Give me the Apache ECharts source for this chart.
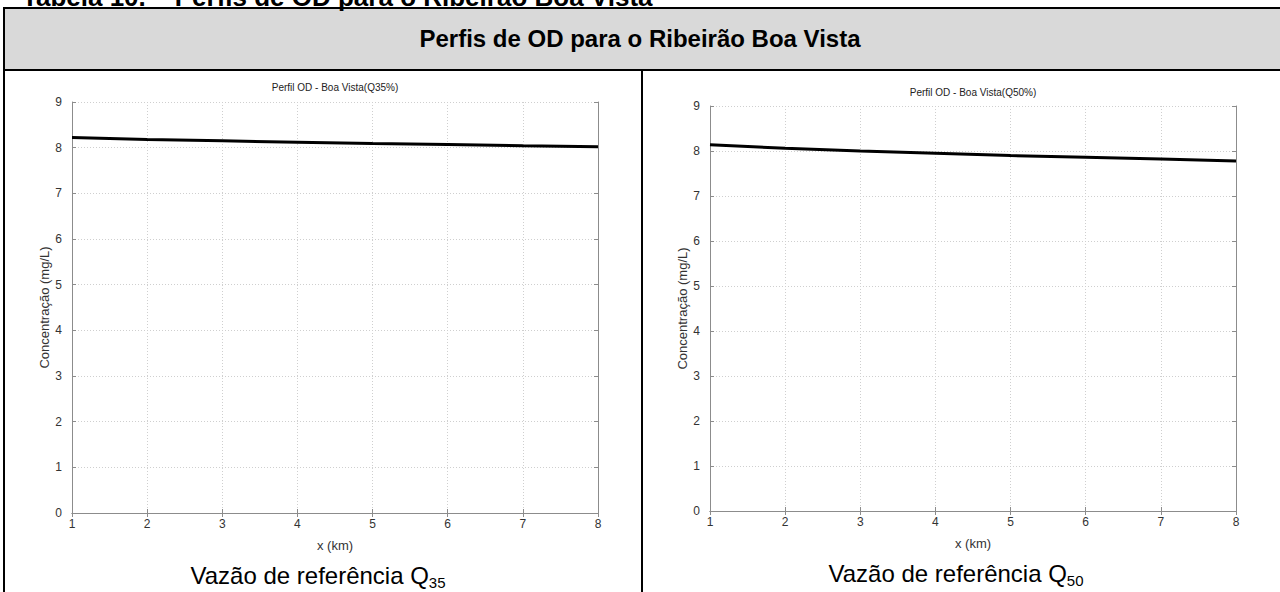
<!DOCTYPE html>
<html>
<head>
<meta charset="utf-8">
<script src="https://cdn.jsdelivr.net/npm/echarts@6/dist/echarts.min.js"></script>
<style>
html,body{margin:0;padding:0;background:#fff;}
#c{width:1280px;height:592px;}
</style>
</head>
<body>
<div id="c"></div>
<script>
// Data
const xKm = [1, 2, 3, 4, 5, 6, 7, 8];
const odQ35 = [8.22, 8.18, 8.15, 8.12, 8.09, 8.07, 8.04, 8.02];
const odQ50 = [8.14, 8.06, 8.00, 7.95, 7.90, 7.86, 7.82, 7.78];
const xTicks = [1, 2, 3, 4, 5, 6, 7, 8];
const yTicks = [0, 1, 2, 3, 4, 5, 6, 7, 8, 9];

const chart = echarts.init(document.getElementById('c'), null, {renderer: 'svg'});
const FONT = 'Liberation Sans, Arial, sans-serif';
const axisGray = '#8c8c8c';

function xAxisPair(gi) {
  return [{
    type: 'value', gridIndex: gi, min: xTicks[0], max: xTicks[xTicks.length - 1], interval: 1, position: 'bottom',
    name: 'x (km)', nameLocation: 'middle', nameGap: 26,
    nameTextStyle: {fontFamily: FONT, fontSize: 13, color: '#333'},
    axisLine: {show: true, lineStyle: {color: axisGray, width: 1}},
    axisTick: {show: true, inside: true, length: 4, lineStyle: {color: axisGray}},
    axisLabel: {fontFamily: FONT, fontSize: 12, color: '#333', margin: 5},
    splitLine: {show: true, lineStyle: {color: '#cfcfcf', type: [1, 2], width: 1}}
  }, {
    type: 'value', gridIndex: gi, min: xTicks[0], max: xTicks[xTicks.length - 1], interval: 1, position: 'top',
    axisLine: {show: true, lineStyle: {color: axisGray, width: 1}},
    axisTick: {show: true, inside: true, length: 4, lineStyle: {color: axisGray}},
    axisLabel: {show: false}, splitLine: {show: false}
  }];
}
function yAxisPair(gi) {
  return [{
    type: 'value', gridIndex: gi, min: yTicks[0], max: yTicks[yTicks.length - 1], interval: 1, position: 'left',
    name: 'Concentração (mg/L)', nameLocation: 'middle', nameGap: 18, nameRotate: 90,
    nameTextStyle: {fontFamily: FONT, fontSize: 13, color: '#333'},
    axisLine: {show: true, lineStyle: {color: axisGray, width: 1}},
    axisTick: {show: true, inside: true, length: 4, lineStyle: {color: axisGray}},
    axisLabel: {fontFamily: FONT, fontSize: 12, color: '#333', margin: 10},
    splitLine: {show: true, lineStyle: {color: '#cfcfcf', type: [1, 2], width: 1}}
  }, {
    type: 'value', gridIndex: gi, min: yTicks[0], max: yTicks[yTicks.length - 1], interval: 1, position: 'right',
    axisLine: {show: true, lineStyle: {color: axisGray, width: 1}},
    axisTick: {show: true, inside: true, length: 4, lineStyle: {color: axisGray}},
    axisLabel: {show: false}, splitLine: {show: false}
  }];
}

const capRich = {
  a: {fontFamily: FONT, fontSize: 24, color: '#000', lineHeight: 28, verticalAlign: 'bottom'},
  s: {fontFamily: FONT, fontSize: 15, color: '#000', lineHeight: 24, verticalAlign: 'bottom', padding: [0, 0, -3, 0]}
};

const option = {
  animation: false,
  backgroundColor: '#fff',
  grid: [
    {left: 72, top: 102, width: 526, height: 411},
    {left: 710, top: 106, width: 526, height: 405}
  ],
  xAxis: [...xAxisPair(0), ...xAxisPair(1)],
  yAxis: [...yAxisPair(0), ...yAxisPair(1)],
  series: [
    {type: 'line', xAxisIndex: 0, yAxisIndex: 0, data: xKm.map((x, i) => [x, odQ35[i]]),
     symbol: 'none', lineStyle: {color: '#000', width: 3}},
    {type: 'line', xAxisIndex: 2, yAxisIndex: 2, data: xKm.map((x, i) => [x, odQ50[i]]),
     symbol: 'none', lineStyle: {color: '#000', width: 3}}
  ],
  graphic: [
    {type: 'rect', z: -10, shape: {x: 5, y: 9, width: 1280, height: 60}, style: {fill: '#d9d9d9'}},
    {type: 'line', shape: {x1: 3, y1: 8, x2: 1285, y2: 8}, style: {stroke: '#000', lineWidth: 2}},
    {type: 'line', shape: {x1: 4, y1: 7, x2: 4, y2: 600}, style: {stroke: '#000', lineWidth: 2}},
    {type: 'line', shape: {x1: 3, y1: 70, x2: 1285, y2: 70}, style: {stroke: '#000', lineWidth: 2}},
    {type: 'line', shape: {x1: 642, y1: 70, x2: 642, y2: 600}, style: {stroke: '#000', lineWidth: 2}},
    {type: 'text', x: 22, y: 10, style: {text: 'Tabela 10. – Perfis de OD para o Ribeirão Boa Vista',
      font: 'bold 26px ' + FONT, fill: '#000', align: 'left', verticalAlign: 'bottom'}},
    {type: 'text', x: 640, y: 38, style: {text: 'Perfis de OD para o Ribeirão Boa Vista',
      font: 'bold 24px ' + FONT, fill: '#000', align: 'center', verticalAlign: 'middle'}},
    {type: 'text', x: 335, y: 87, style: {text: 'Perfil OD - Boa Vista(Q35%)',
      font: '10px ' + FONT, fill: '#222', align: 'center', verticalAlign: 'middle'}},
    {type: 'text', x: 973, y: 92, style: {text: 'Perfil OD - Boa Vista(Q50%)',
      font: '10px ' + FONT, fill: '#222', align: 'center', verticalAlign: 'middle'}},
    {type: 'text', x: 318, y: 573, style: {
      text: '{a|Vazão de referência Q}{s|35}', align: 'center', verticalAlign: 'middle', rich: capRich}},
    {type: 'text', x: 956, y: 571, style: {
      text: '{a|Vazão de referência Q}{s|50}', align: 'center', verticalAlign: 'middle', rich: capRich}}
  ]
};
chart.setOption(option);
</script>
</body>
</html>
